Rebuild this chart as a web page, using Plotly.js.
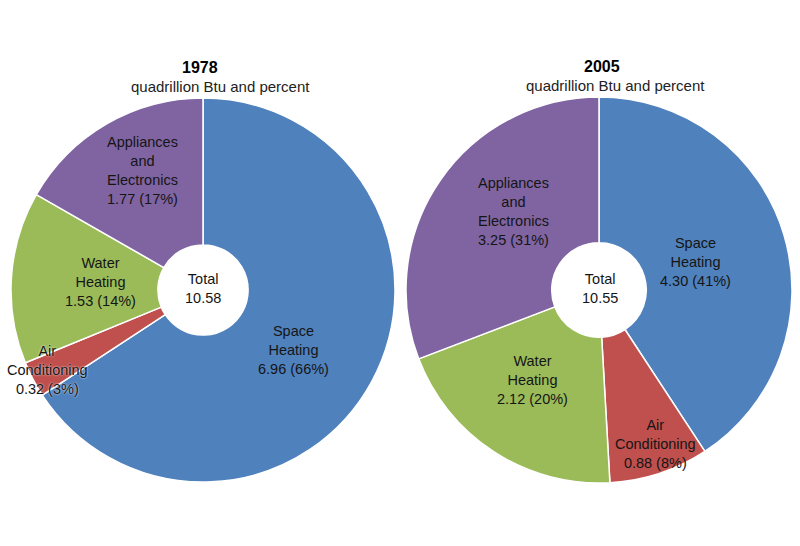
<!DOCTYPE html>
<html>
<head>
<meta charset="utf-8">
<script src="https://cdn.plot.ly/plotly-3.0.1.min.js"></script>
<style>html,body{margin:0;padding:0;background:#fff;}#chart{width:800px;height:546px;}</style>
</head>
<body>
<div id="chart"></div>
<script>
// ---- data ----
const categories = ["Space Heating", "Air Conditioning", "Water Heating", "Appliances and Electronics"];
const categoryLines = ["Space<br>Heating", "Air<br>Conditioning", "Water<br>Heating", "Appliances<br>and<br>Electronics"];
const years = ["1978", "2005"];
const values1978 = [6.96, 0.32, 1.53, 1.77];
const values2005 = [4.30, 0.88, 2.12, 3.25];
const unitLabel = "quadrillion Btu and percent";
const colors = ["#4F81BD", "#C0504D", "#9BBB59", "#8064A2"];

// ---- layout helpers ----
const W = 800, H = 546;
const fx = x => x / W;
const fy = y => 1 - y / H;
const FAMILY = "Liberation Sans, Arial, sans-serif";

function pieTrace(vals, xd, yd, hole) {
  return {
    type: "pie", values: vals, labels: categories, sort: false, direction: "clockwise", rotation: 0,
    hole: hole, textinfo: "none", hoverinfo: "label+value+percent",
    marker: { colors: colors, line: { color: "#ffffff", width: 1.5 } },
    domain: { x: xd, y: yd }
  };
}

const traces = [
  pieTrace(values1978, [fx(11), fx(395)], [fy(482), fy(98)], 0.235),
  pieTrace(values2005, [fx(406), fx(792)], [fy(483), fy(97)], 0.245)
];

function sum(a) { return a.reduce((s, v) => s + v, 0); }
function labelText(vals, i) {
  const t = sum(vals);
  return categoryLines[i] + "<br>" + vals[i].toFixed(2) + " (" + Math.round(vals[i] / t * 100) + "%)";
}

// label centre positions (pixels)
const pos1978 = [[293, 350], [47, 370], [100, 282], [142, 170]];
const pos2005 = [[695, 262], [655, 444], [532, 380], [513, 212]];
const labelFont = { family: FAMILY, size: 14.5, color: "#151515" };

const annotations = [];
function addLabels(vals, pos, haloIdx) {
  vals.forEach((v, i) => {
    const f = Object.assign({}, labelFont);
    if (i === haloIdx) f.shadow = "0px 0px 2px #ffffff";
    annotations.push({
      xref: "paper", yref: "paper", x: fx(pos[i][0]), y: fy(pos[i][1]),
      xanchor: "center", yanchor: "middle", showarrow: false,
      text: labelText(vals, i), font: f
    });
  });
}
addLabels(values1978, pos1978, 1);
addLabels(values2005, pos2005, -1);

// totals
[[values1978, 203, 288], [values2005, 600, 288]].forEach(([vals, x, y]) => {
  annotations.push({
    xref: "paper", yref: "paper", x: fx(x), y: fy(y), xanchor: "center", yanchor: "middle",
    showarrow: false, text: "Total<br>" + sum(vals).toFixed(2), font: labelFont
  });
});

// titles: year and unit line
[[years[0], 200, 67, 220, 86.5], [years[1], 602, 66, 615, 85]].forEach(([yr, tx, ty, sx, sy]) => {
  annotations.push({
    xref: "paper", yref: "paper", x: fx(tx), y: fy(ty), xanchor: "center", yanchor: "middle",
    showarrow: false, text: "<b>" + yr + "</b>",
    font: { family: FAMILY, size: 16, color: "#000" }
  });
  annotations.push({
    xref: "paper", yref: "paper", x: fx(sx), y: fy(sy), xanchor: "center", yanchor: "middle",
    showarrow: false, text: unitLabel,
    font: { family: FAMILY, size: 15, color: "#222" }
  });
});

const layout = {
  width: W, height: H, margin: { l: 0, r: 0, t: 0, b: 0 },
  paper_bgcolor: "#ffffff", showlegend: false, annotations: annotations
};

Plotly.newPlot("chart", traces, layout, { displayModeBar: false, staticPlot: true });
</script>
</body>
</html>
